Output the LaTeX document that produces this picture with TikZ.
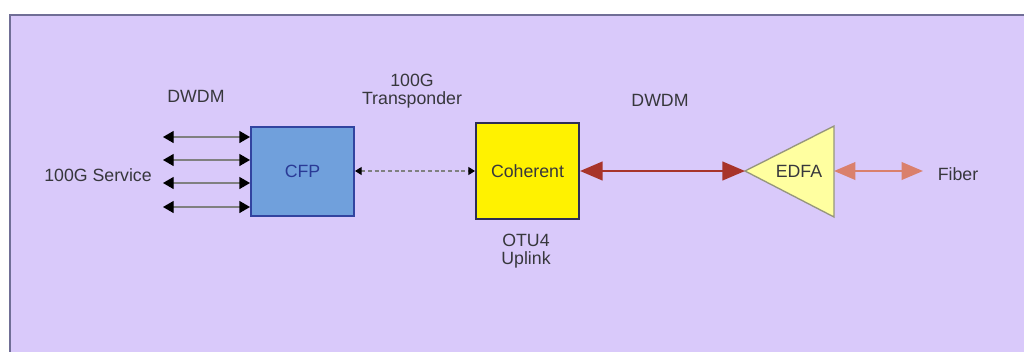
\documentclass[tikz,border=0pt]{standalone}
\usepackage{fontspec}
\setmainfont{Liberation Sans}
\usetikzlibrary{arrows.meta}

\definecolor{lavbg}{RGB}{217,201,250}
\definecolor{lavline}{RGB}{112,110,150}
\definecolor{cfpfill}{RGB}{112,160,220}
\definecolor{cfpline}{RGB}{50,68,160}
\definecolor{cfptext}{RGB}{42,58,150}
\definecolor{cohline}{RGB}{45,45,85}
\definecolor{darkred}{RGB}{168,52,42}
\definecolor{edfafill}{RGB}{255,255,160}
\definecolor{edfaline}{RGB}{150,150,125}
\definecolor{salmon}{RGB}{218,128,108}
\definecolor{txtgray}{RGB}{55,55,60}

\begin{document}
\begin{tikzpicture}[x=0.75pt,y=-0.75pt,
  font=\fontsize{13.3}{16}\selectfont,
  lbl/.style={text=txtgray,align=center},
  box/.style={draw,line width=1.5pt,inner sep=0pt,minimum width=77.25pt},
  svc/.style={draw=gray,line width=1pt,{Triangle[length=8pt,width=9pt,color=black]}-{Triangle[length=8pt,width=9pt,color=black]}},
  dwdm/.style={draw=darkred,line width=1.8pt,{Triangle[length=17pt,width=14pt]}-{Triangle[length=17pt,width=14pt]}},
  fiber/.style={draw=salmon,line width=2pt,{Triangle[length=16pt,width=13pt]}-{Triangle[length=16pt,width=13pt]}}]
\clip (0,0) rectangle (1024,351);
\useasboundingbox (0,0) rectangle (1024,351);
\draw[fill=lavbg,draw=lavline,line width=1.5pt] (9.5,14.5) rectangle (1040,370);

% boxes
\node[box,fill=cfpfill,draw=cfpline,text=cfptext,minimum height=66.75pt] (cfp) at (302.5,171) {CFP};
\node[box,fill=yellow,draw=cohline,text=txtgray,minimum height=72pt] (coh) at (527.5,171) {Coherent};
\draw[fill=edfafill,draw=edfaline,line width=1pt] (745,171) -- (834,126) -- (834,217) -- cycle;
\coordinate (edfaL) at (745,171);
\coordinate (edfaR) at (834,171);
\coordinate (fibend) at (923,171);
\node[lbl] (edfa) at (799,171) {EDFA};

% labels
\node[lbl] (dwdmA) at (196,96) {DWDM};
\node[lbl] (svclbl) at (98,175) {100G Service};
\node[lbl] (trans) at (412,91) {100G\\[-2pt]Transponder};
\node[lbl] (otu) at (526,251) {OTU4\\[-2pt]Uplink};
\node[lbl] (dwdmB) at (660,100) {DWDM};
\node[lbl] (fib) at (958,174) {Fiber};

% service lines
\foreach \y [count=\i] in {137,160,183,207} {
  \coordinate (s\i) at (163,\y);
  \draw[svc] (s\i) -- (s\i -| cfp.west);
}
\draw[draw=gray,densely dashed,line width=0.8pt,{Triangle[length=5pt,width=6pt,color=black]}-{Triangle[length=5pt,width=6pt,color=black]}] (cfp.east) -- (coh.west);
\draw[dwdm] (coh.east) -- (edfaL);
\draw[fiber] (edfaR) -- (fibend);
\end{tikzpicture}
\end{document}
